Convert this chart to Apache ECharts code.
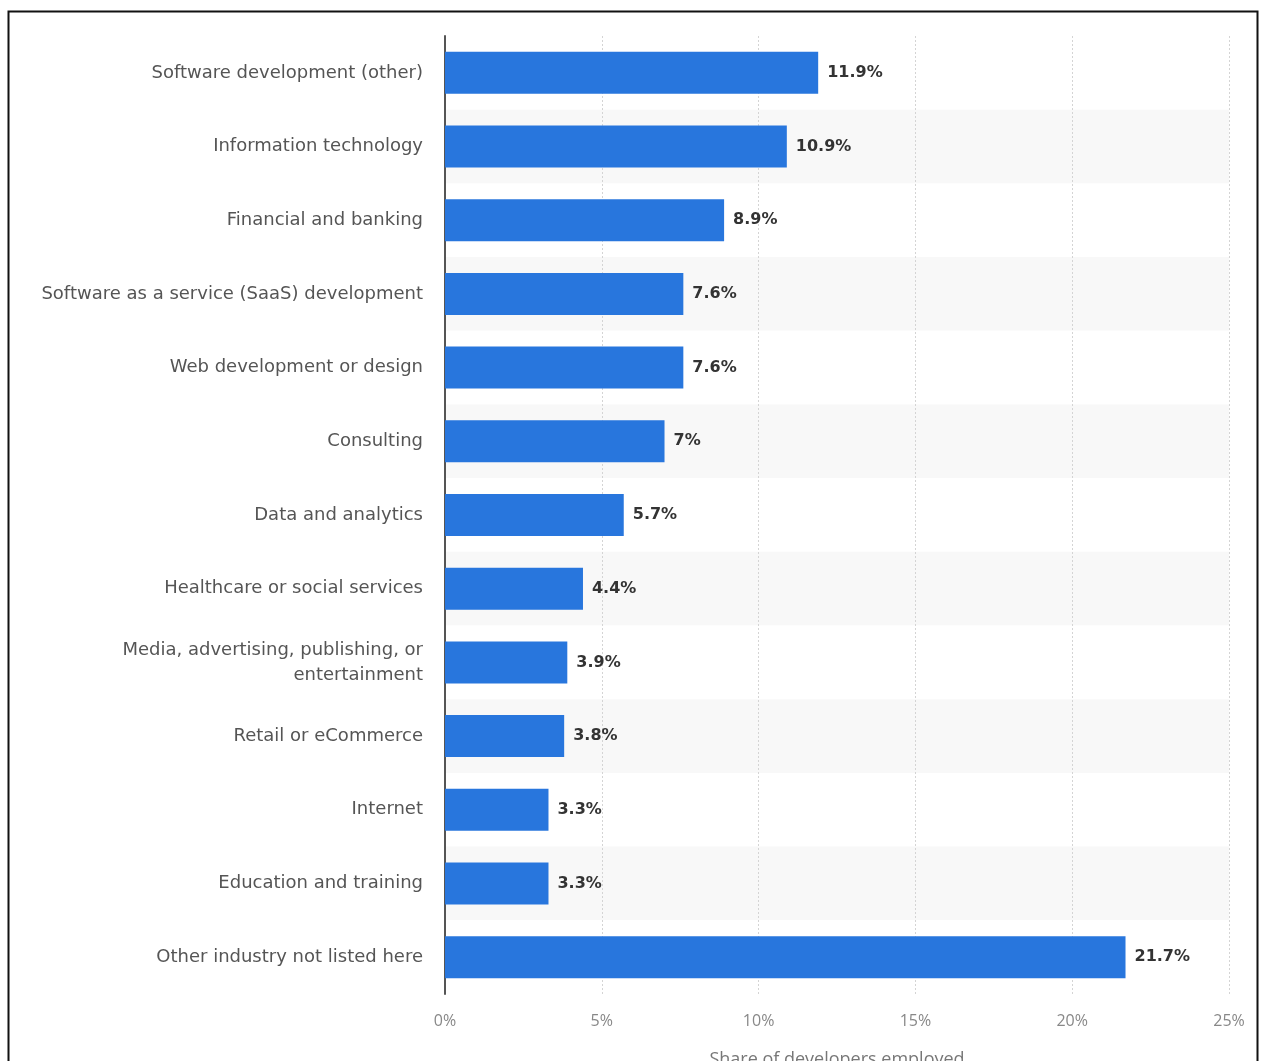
<!DOCTYPE html>
<html><head><meta charset="utf-8">
<script src="https://cdn.jsdelivr.net/npm/echarts@6/dist/echarts.min.js"></script>
<style>html,body{margin:0;padding:0;background:#fff;overflow:hidden}#c{width:1263px;height:1061px}</style>
</head><body><div id="c"></div>
<script>
const categories = [
  "Software development (other)",
  "Information technology",
  "Financial and banking",
  "Software as a service (SaaS) development",
  "Web development or design",
  "Consulting",
  "Data and analytics",
  "Healthcare or social services",
  "Media, advertising, publishing, or\nentertainment",
  "Retail or eCommerce",
  "Internet",
  "Education and training",
  "Other industry not listed here"
];
const values = [11.9, 10.9, 8.9, 7.6, 7.6, 7, 5.7, 4.4, 3.9, 3.8, 3.3, 3.3, 21.7];
const xTicks = [0, 5, 10, 15, 20, 25];
const axisTitle = "Share of developers employed";

const labelFont = "'DejaVu Sans', sans-serif";
const chart = echarts.init(document.getElementById('c'));
chart.setOption({
  animation: false,
  backgroundColor: '#fff',
  graphic: [{
    type: 'rect', left: 6, top: 9,
    shape: { width: 1249, height: 1060 },
    style: { fill: 'none', stroke: '#111', lineWidth: 2 },
    silent: true, z: 100
  }],
  grid: { left: 445, right: 34, top: 36, bottom: 67, containLabel: false, outerBoundsMode: 'none' },
  xAxis: {
    type: 'value', min: xTicks[0], max: xTicks[xTicks.length - 1], interval: 5,
    axisLine: { show: false }, axisTick: { show: false },
    axisLabel: { formatter: v => v + '%', color: '#888', fontSize: 16, fontFamily: "'Open Sans', sans-serif", margin: 19 },
    splitLine: { show: true, lineStyle: { color: '#d4d4d4', type: [2, 2], width: 1 } },
    name: axisTitle, nameLocation: 'middle', nameGap: 57,
    nameTextStyle: { color: '#777', fontSize: 18, fontFamily: "'Open Sans', sans-serif" }
  },
  yAxis: {
    type: 'category', data: categories, inverse: true,
    axisLine: { show: true, lineStyle: { color: '#555', width: 2 } },
    axisTick: { show: false },
    axisLabel: { color: '#555', fontSize: 18, fontFamily: labelFont, margin: 22, align: 'right', lineHeight: 25 },
    splitArea: { show: true, areaStyle: { color: ['#ffffff', '#f8f8f8'] } }
  },
  series: [{
    type: 'bar', data: values, barWidth: 42,
    itemStyle: { color: '#2876dd' },
    label: { show: true, position: 'right', distance: 9, formatter: p => p.value + '%',
      color: '#333', fontWeight: 'bold', fontSize: 16, fontFamily: "'DejaVu Sans', sans-serif" }
  }]
});
</script></body></html>
